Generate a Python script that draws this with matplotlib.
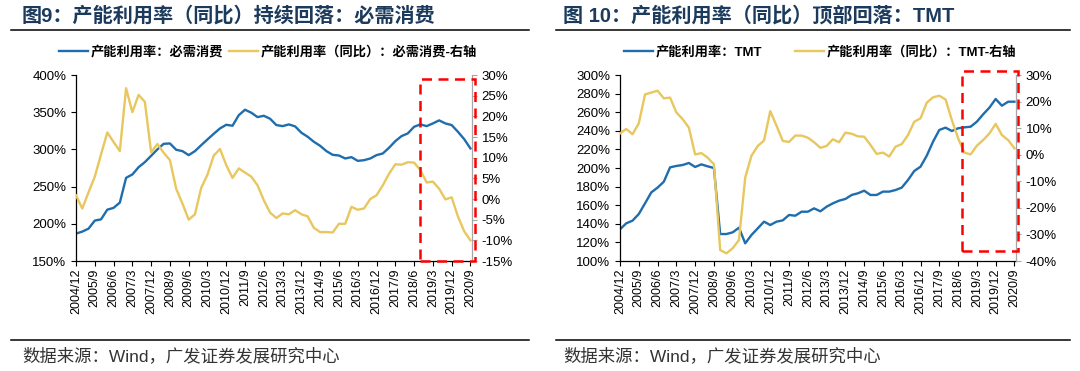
import matplotlib
matplotlib.use("Agg")
import matplotlib.pyplot as plt
from matplotlib.patches import Rectangle
from matplotlib.lines import Line2D

plt.rcParams['font.family'] = ['Liberation Sans', 'Noto Sans CJK SC', 'DejaVu Sans']
plt.rcParams['axes.unicode_minus'] = False

# ---------------- data ----------------
# quarterly, 2004/12 .. 2020/9 (64 points)
quarters = []
y, m = 2004, 12
for _ in range(64):
    quarters.append(f"{y}/{m}")
    m += 3
    if m > 12:
        m -= 12
        y += 1

tick_labels = ["2004/12", "2005/9", "2006/6", "2007/3", "2007/12", "2008/9", "2009/6",
               "2010/3", "2010/12", "2011/9", "2012/6", "2013/3", "2013/12", "2014/9",
               "2015/6", "2016/3", "2016/12", "2017/9", "2018/6", "2019/3", "2019/12",
               "2020/9"]

# Chart 9: consumer staples
staples_util = [186.8, 189.5, 193.5, 204.3, 206.0, 219.0, 221.4, 228.5, 261.8, 266.3,
                276.1, 282.9, 291.4, 300.0, 307.5, 308.0, 299.5, 297.7, 292.3, 297.7,
                305.7, 313.4, 321.0, 328.2, 333.1, 331.8, 346.0, 353.3, 349.3, 343.4,
                345.2, 341.2, 332.7, 331.3, 333.6, 330.9, 322.4, 317.0, 310.2, 304.8,
                297.7, 292.7, 291.8, 287.8, 289.6, 284.6, 285.5, 287.8, 292.3, 294.5,
                302.2, 311.1, 317.9, 321.5, 330.4, 333.6, 331.3, 334.9, 339.0, 334.9,
                332.7, 323.7, 313.8, 301.3]
staples_yoy = [0.9, -2.3, 1.6, 5.4, 10.8, 16.1, 13.8, 11.6, 26.8, 21.0,
               25.2, 23.5, 11.3, 13.3, 11.2, 9.4, 2.5, -1.1, -5.0, -3.7,
               2.7, 5.9, 10.5, 12.1, 8.2, 5.1, 7.4, 6.4, 5.4, 3.3,
               -0.3, -3.3, -4.6, -3.5, -3.7, -2.7, -3.7, -4.2, -7.0, -8.0,
               -8.0, -8.1, -6.0, -6.0, -1.9, -2.6, -2.3, 0.0, 0.9, 3.3,
               6.1, 8.4, 8.3, 8.9, 8.8, 7.0, 4.0, 4.2, 2.5, -0.1,
               0.4, -4.2, -7.8, -10.0]

# Chart 10: TMT
tmt_util = [134.1, 140.5, 143.4, 150.5, 162.0, 173.8, 178.9, 185.3, 200.7, 202.2,
            203.2, 205.4, 201.1, 203.9, 201.8, 200.0, 129.0, 129.0, 130.8, 135.8,
            119.0, 128.0, 135.1, 142.3, 138.7, 142.3, 143.7, 149.5, 148.7, 153.0,
            153.0, 156.6, 153.4, 158.4, 162.0, 164.9, 166.7, 171.0, 172.8, 175.6,
            171.0, 171.0, 174.6, 174.6, 176.3, 178.9, 187.1, 196.8, 201.4, 213.3,
            228.3, 240.9, 243.4, 239.8, 242.7, 243.7, 244.4, 249.8, 257.7, 264.9,
            274.2, 267.0, 271.3, 271.3]
tmt_yoy = [8.0, 9.7, 7.7, 11.8, 22.7, 23.4, 24.1, 21.2, 21.5, 15.9,
           13.4, 10.2, 0.1, 0.6, -1.1, -3.6, -35.9, -37.1, -35.2, -32.1,
           -8.6, -0.4, 3.3, 5.3, 16.4, 10.9, 5.2, 4.8, 7.2, 7.2,
           6.4, 4.7, 2.6, 3.3, 5.8, 4.7, 8.3, 7.9, 6.9, 6.8,
           3.7, 0.3, 0.8, -0.7, 3.0, 4.0, 7.4, 12.4, 13.7, 19.6,
           21.6, 22.2, 20.8, 13.1, 6.2, 0.8, 0.1, 3.4, 5.5, 8.0,
           11.6, 7.4, 5.5, 2.4]

left_ticks_9 = [150, 200, 250, 300, 350, 400]
right_ticks_9 = [-15, -10, -5, 0, 5, 10, 15, 20, 25, 30]
left_ticks_10 = [100, 120, 140, 160, 180, 200, 220, 240, 260, 280, 300]
right_ticks_10 = [-40, -30, -20, -10, 0, 10, 20, 30]

BLUE = '#1F6DAD'
YELLOW = '#E8C75E'
NAVY = '#1B3A5C'
FAM = ['Liberation Sans', 'Noto Sans CJK SC', 'DejaVu Sans']

fig = plt.figure(figsize=(10.8, 3.71), dpi=100)


def panel(left_px, util, yoy, lticks, rticks, leg1, leg2, box, title, title_x,
          panel_x0, panel_x1, leg_center, colspace):
    W, H = 1080.0, 371.0
    ax = fig.add_axes([left_px / W, 1 - 261 / H, 396 / W, 186 / H])
    x = list(range(len(quarters)))
    l1, = ax.plot(x, util, color=BLUE, lw=1.7, solid_joinstyle='round')
    ax.set_ylim(lticks[0], lticks[-1])
    ax.set_yticks(lticks)
    ax.set_yticklabels([f"{v}%" for v in lticks])
    ax.set_xlim(0, 63.25)
    tick_pos = [quarters.index(t) for t in tick_labels]
    ax.set_xticks(tick_pos)
    ax.set_xticklabels(tick_labels, rotation=90, fontsize=9)
    ax.tick_params(axis='y', labelsize=9.5, length=3.5, direction='out', width=0.8)
    ax.tick_params(axis='x', length=3.5, direction='out', width=0.8, pad=2)
    for s in ['top', 'right']:
        ax.spines[s].set_visible(False)
    ax.spines['left'].set_linewidth(0.9)
    ax.spines['bottom'].set_linewidth(0.9)

    ax2 = ax.twinx()
    l2, = ax2.plot(x, yoy, color=YELLOW, lw=1.7, solid_joinstyle='round')
    ax2.set_ylim(rticks[0], rticks[-1])
    ax2.set_yticks(rticks)
    ax2.set_yticklabels([f"{v}%" for v in rticks])
    ax2.tick_params(axis='y', labelsize=9.5, length=3.5, color='#A6A6A6', width=0.8)
    for s in ['top', 'left', 'bottom']:
        ax2.spines[s].set_visible(False)
    ax2.spines['right'].set_color('#A6A6A6')
    ax2.spines['right'].set_linewidth(0.9)

    bx0, bx1, by0, by1 = box
    rect = Rectangle((bx0, by0), bx1 - bx0, by1 - by0, transform=ax2.transData,
                     fill=False, edgecolor='#FF0000', lw=1.8, linestyle=(0, (4, 2.6)),
                     clip_on=False, zorder=10)
    ax2.add_patch(rect)

    fig.legend([l1, l2], [leg1, leg2], loc='center', bbox_to_anchor=(leg_center / W, 1 - 52 / H),
               ncol=2, frameon=False, prop={'family': FAM, 'size': 9.5, 'weight': 'bold'},
               handlelength=2.2, handletextpad=0.2, columnspacing=colspace)

    fig.text(title_x / W, 1 - 16 / H, title, fontsize=14.5, fontweight='bold',
             color=NAVY, va='center', ha='left', family=FAM)
    fig.add_artist(Line2D([panel_x0 / W, panel_x1 / W], [1 - 29.5 / H, 1 - 29.5 / H],
                          color='black', lw=1.1))
    fig.add_artist(Line2D([panel_x0 / W, panel_x1 / W], [1 - 340 / H, 1 - 340 / H],
                          color='black', lw=1.1))
    fig.text(title_x / W, 1 - 356 / H, "数据来源：Wind，广发证券发展研究中心", fontsize=12.5,
             color='#333333', va='center', ha='left', family=FAM)
    return ax, ax2


panel(76, staples_util, staples_yoy, left_ticks_9, right_ticks_9,
      "产能利用率：必需消费", "产能利用率（同比）：必需消费-右轴",
      (55.0, 63.8, -15.0, 29.0), "图9：产能利用率（同比）持续回落：必需消费", 22,
      11, 529, 268, 0.4)
panel(620, tmt_util, tmt_yoy, left_ticks_10, right_ticks_10,
      "产能利用率：TMT", "产能利用率（同比）：TMT-右轴",
      (54.7, 63.5, -36.4, 31.5), "图 10：产能利用率（同比）顶部回落：TMT", 563,
      556, 1070, 820, 2.5)

fig.savefig("out.png", dpi=100)
